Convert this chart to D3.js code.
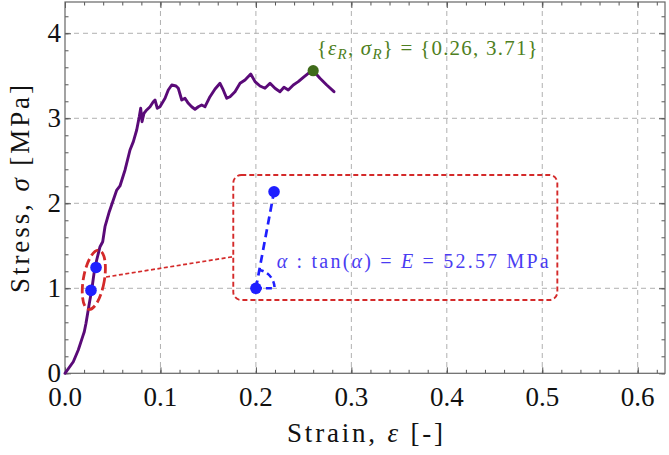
<!DOCTYPE html>
<html><head><meta charset="utf-8">
<script src="https://cdn.jsdelivr.net/npm/d3@7"></script>
<style>
html,body{margin:0;padding:0;background:#fff;}
svg{display:block;}
text{font-family:"Liberation Serif","Times New Roman",serif;}
</style></head>
<body>
<svg id="chart" width="669" height="455"></svg>
<script>
// ---- data ----
const strain = [0.0, 0.0087, 0.0139, 0.0185, 0.0202, 0.0220, 0.0255, 0.0280, 0.0304, 0.0332, 0.0367, 0.0395, 0.0419, 0.0464, 0.0506, 0.0542, 0.0576, 0.0629, 0.0681, 0.0716, 0.0751, 0.0778, 0.0793, 0.0807, 0.0828, 0.0856, 0.0891, 0.0925, 0.0943, 0.0967, 0.0995, 0.1048, 0.1082, 0.1118, 0.1163, 0.1187, 0.1223, 0.1257, 0.1292, 0.1327, 0.1362, 0.1397, 0.1432, 0.1467, 0.1519, 0.1572, 0.1624, 0.1658, 0.1694, 0.1729, 0.1781, 0.1834, 0.1886, 0.1946, 0.1991, 0.2043, 0.2095, 0.2148, 0.2200, 0.2252, 0.2294, 0.2339, 0.2392, 0.2444, 0.2497, 0.2549, 0.2601, 0.2671, 0.2742, 0.2818];
const stress = [0.0, 0.136, 0.274, 0.431, 0.489, 0.588, 0.824, 0.980, 1.176, 1.333, 1.489, 1.548, 1.725, 1.901, 2.039, 2.156, 2.204, 2.392, 2.627, 2.725, 2.862, 3.019, 3.118, 2.960, 3.059, 3.098, 3.136, 3.195, 3.215, 3.118, 3.136, 3.235, 3.333, 3.392, 3.380, 3.353, 3.215, 3.235, 3.176, 3.136, 3.106, 3.136, 3.156, 3.136, 3.254, 3.345, 3.412, 3.333, 3.235, 3.254, 3.313, 3.412, 3.451, 3.521, 3.431, 3.380, 3.353, 3.412, 3.353, 3.313, 3.365, 3.333, 3.392, 3.431, 3.482, 3.529, 3.560, 3.471, 3.392, 3.313];
const xTicks = [0, 0.1, 0.2, 0.3, 0.4, 0.5, 0.6];
const xTickLabels = ["0.0", "0.1", "0.2", "0.3", "0.4", "0.5", "0.6"];
const yTicks = [0, 1, 2, 3, 4];
const yTickLabels = ["0", "1", "2", "3", "4"];
const rupturePoint = [0.26, 3.56];
const fitStrain = [0.0272, 0.0325];
const fitStress = [0.975, 1.245];
const insetStrain = [0.200, 0.219];
const insetStress = [1.000, 2.136];
const ellipseCenter = [0.0302, 1.10];
const connectorStrain = [0.0430, 0.1763];
const connectorStress = [1.133, 1.372];
const boxStrain = [0.1763, 0.5158];
const boxStress = [2.333, 0.862];
const ruptureLabel = "{0.26, 3.71}";
const modulusLabel = "52.57 MPa";

// ---- layout ----
const svg = d3.select("#chart");
const L = 65, R = 665, T = 2, B = 373.3;
const x = d3.scaleLinear().domain([0, 0.6286]).range([L, R]);
const y = d3.scaleLinear().domain([0, 4.368]).range([B, T]);

const gridColor = "#b0b0b0";
// grid
svg.append("g").selectAll("line").data(xTicks.filter(d => d > 0)).join("line")
  .attr("x1", d => x(d)).attr("x2", d => x(d)).attr("y1", T).attr("y2", B)
  .attr("stroke", gridColor).attr("stroke-width", 1).attr("stroke-dasharray", "5,4");
svg.append("g").selectAll("line").data(yTicks.filter(d => d > 0)).join("line")
  .attr("y1", d => y(d)).attr("y2", d => y(d)).attr("x1", L).attr("x2", R)
  .attr("stroke", gridColor).attr("stroke-width", 1).attr("stroke-dasharray", "5,4");

// axes (ticks inward, on all four sides)
const xMinor = d3.range(0, 0.63, 0.02);
const yMinor = d3.range(0, 4.37, 0.2);
function styleAxis(g) {
  g.select(".domain").remove();
  g.selectAll("line").attr("stroke", "#555").attr("stroke-width", 1);
}
svg.append("g").attr("transform", `translate(0,${B})`)
  .call(d3.axisBottom(x).tickValues(xMinor).tickSize(-3.5).tickFormat("")).call(styleAxis);
svg.append("g").attr("transform", `translate(0,${B})`)
  .call(d3.axisBottom(x).tickValues(xTicks).tickSize(-6).tickFormat("")).call(styleAxis);
svg.append("g").attr("transform", `translate(0,${T})`)
  .call(d3.axisTop(x).tickValues(xMinor).tickSize(-3.5).tickFormat("")).call(styleAxis);
svg.append("g").attr("transform", `translate(0,${T})`)
  .call(d3.axisTop(x).tickValues(xTicks).tickSize(-6).tickFormat("")).call(styleAxis);
svg.append("g").attr("transform", `translate(${L},0)`)
  .call(d3.axisLeft(y).tickValues(yMinor).tickSize(-3.5).tickFormat("")).call(styleAxis);
svg.append("g").attr("transform", `translate(${L},0)`)
  .call(d3.axisLeft(y).tickValues(yTicks).tickSize(-6).tickFormat("")).call(styleAxis);
svg.append("g").attr("transform", `translate(${R},0)`)
  .call(d3.axisRight(y).tickValues(yMinor).tickSize(-3.5).tickFormat("")).call(styleAxis);
svg.append("g").attr("transform", `translate(${R},0)`)
  .call(d3.axisRight(y).tickValues(yTicks).tickSize(-6).tickFormat("")).call(styleAxis);

// frame
svg.append("rect").attr("x", L).attr("y", T).attr("width", R - L).attr("height", B - T)
  .attr("fill", "none").attr("stroke", "#666").attr("stroke-width", 1.2);

// tick labels
svg.append("g").selectAll("text").data(xTicks).join("text")
  .attr("x", d => x(d)).attr("y", 406).attr("text-anchor", "middle")
  .attr("font-size", 27).attr("fill", "#111").text((d, i) => xTickLabels[i]);
svg.append("g").selectAll("text").data(yTicks).join("text")
  .attr("x", 61).attr("y", d => y(d) + 8.5).attr("text-anchor", "end")
  .attr("font-size", 27).attr("fill", "#111").text((d, i) => yTickLabels[i]);

// axis titles
const xt = svg.append("text").attr("x", 365).attr("y", 442).attr("text-anchor", "middle")
  .attr("font-size", 27).attr("fill", "#111")
  .attr("textLength", 156).attr("lengthAdjust", "spacing");
xt.append("tspan").text("Strain, ");
xt.append("tspan").attr("font-style", "italic").text("ε");
xt.append("tspan").text(" [-]");

const yt = svg.append("text").attr("transform", "translate(29,189) rotate(-90)")
  .attr("text-anchor", "middle").attr("font-size", 27).attr("fill", "#111")
  .attr("textLength", 208).attr("lengthAdjust", "spacing");
yt.append("tspan").text("Stress, ");
yt.append("tspan").attr("font-style", "italic").text("σ");
yt.append("tspan").text(" [MPa]");

// curve
const line = d3.line().x((d, i) => x(strain[i])).y((d, i) => y(stress[i]));
svg.append("path").datum(strain).attr("d", line)
  .attr("fill", "none").attr("stroke", "#5a0a78").attr("stroke-width", 2.9)
  .attr("stroke-linejoin", "round").attr("stroke-linecap", "round");

const red = "#d42a2a", blue = "#1f1fff", textBlue = "#4a3cf2";

// ellipse around fit points
svg.append("ellipse")
  .attr("transform", `translate(${x(ellipseCenter[0])},${y(ellipseCenter[1])}) rotate(10)`)
  .attr("rx", 10.5).attr("ry", 30).attr("fill", "none")
  .attr("stroke", red).attr("stroke-width", 2.8).attr("stroke-dasharray", "9,4");

// connector
svg.append("line")
  .attr("x1", x(connectorStrain[0])).attr("y1", y(connectorStress[0]))
  .attr("x2", x(connectorStrain[1])).attr("y2", y(connectorStress[1]))
  .attr("stroke", red).attr("stroke-width", 1.7).attr("stroke-dasharray", "4,2.5");

// inset box
svg.append("rect")
  .attr("x", x(boxStrain[0])).attr("y", y(boxStress[0]))
  .attr("width", x(boxStrain[1]) - x(boxStrain[0])).attr("height", y(boxStress[1]) - y(boxStress[0]))
  .attr("rx", 8).attr("ry", 8).attr("fill", "none")
  .attr("stroke", red).attr("stroke-width", 1.9).attr("stroke-dasharray", "5,3");

// fit points on curve
svg.append("g").selectAll("circle").data(fitStrain).join("circle")
  .attr("cx", d => x(d)).attr("cy", (d, i) => y(fitStress[i])).attr("r", 5.8).attr("fill", blue);

// inset slope
const x0 = x(insetStrain[0]), y0 = y(insetStress[0]);
const x1 = x(insetStrain[1]), y1 = y(insetStress[1]);
svg.append("line").attr("x1", x0).attr("y1", y0).attr("x2", x1).attr("y2", y1)
  .attr("stroke", blue).attr("stroke-width", 2.7).attr("stroke-dasharray", "8,5");
const r = 18.7;
const th = Math.atan2(y0 - y1, x1 - x0);
svg.append("path")
  .attr("d", `M${x0},${y0} L${x0 + r},${y0} A${r},${r} 0 0 0 ${x0 + r * Math.cos(th)},${y0 - r * Math.sin(th)}`)
  .attr("fill", "none").attr("stroke", blue).attr("stroke-width", 2.5).attr("stroke-dasharray", "6,4");
svg.append("g").selectAll("circle").data(insetStrain).join("circle")
  .attr("cx", d => x(d)).attr("cy", (d, i) => y(insetStress[i])).attr("r", 5.8).attr("fill", blue);

// modulus label
const mt = svg.append("text").attr("x", 276.7).attr("y", 268.3).attr("font-size", 20)
  .attr("fill", textBlue).attr("textLength", 272).attr("lengthAdjust", "spacing");
mt.append("tspan").attr("font-style", "italic").text("α");
mt.append("tspan").text(" : tan(");
mt.append("tspan").attr("font-style", "italic").text("α");
mt.append("tspan").text(") = ");
mt.append("tspan").attr("font-style", "italic").text("E");
mt.append("tspan").text(" = " + modulusLabel);

// rupture point
svg.append("circle").attr("cx", x(rupturePoint[0])).attr("cy", y(rupturePoint[1]))
  .attr("r", 5.6).attr("fill", "#3f6b1b");
const gt = svg.append("text").attr("x", 316.7).attr("y", 55).attr("font-size", 21)
  .attr("fill", "#4f7f22").attr("textLength", 221).attr("lengthAdjust", "spacing");
gt.append("tspan").text("{");
gt.append("tspan").attr("font-style", "italic").text("ε");
gt.append("tspan").attr("font-style", "italic").attr("font-size", 15).attr("dy", 4).text("R");
gt.append("tspan").attr("dy", -4).text(", ");
gt.append("tspan").attr("font-style", "italic").text("σ");
gt.append("tspan").attr("font-style", "italic").attr("font-size", 15).attr("dy", 4).text("R");
gt.append("tspan").attr("dy", -4).text("} =  " + ruptureLabel);
</script>
</body></html>
